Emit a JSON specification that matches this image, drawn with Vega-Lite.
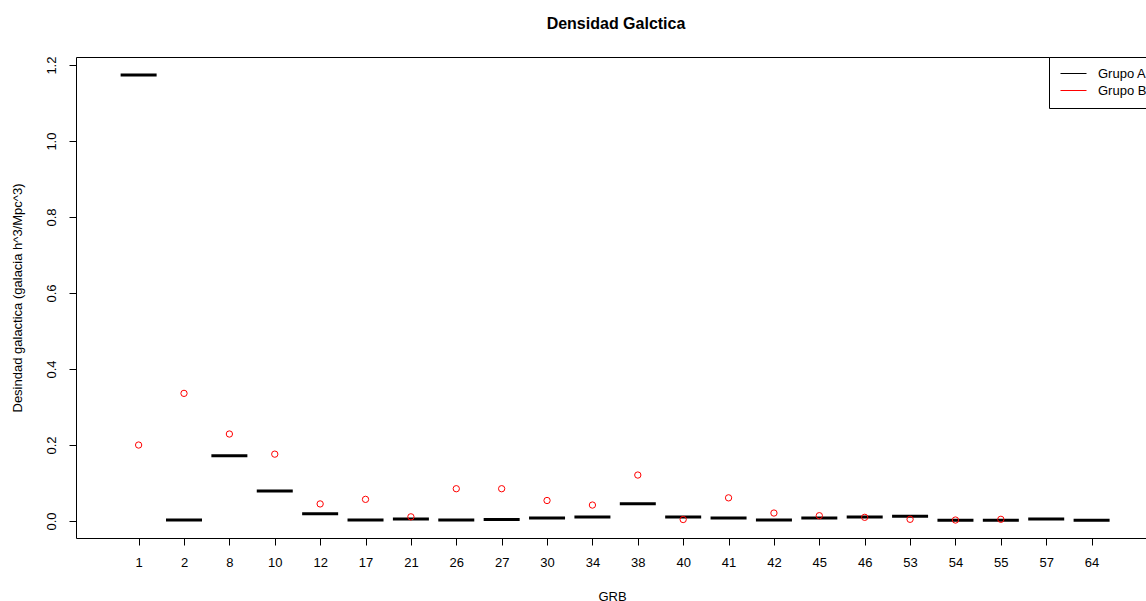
{
  "$schema": "https://vega.github.io/schema/vega-lite/v6.json",
  "autosize": {"type": "none"},
  "padding": {"left": 76, "top": 57, "right": 0, "bottom": 63},
  "width": 1072,
  "height": 481,
  "background": "white",
  "config": {
    "font": "Liberation Sans",
    "view": {"stroke": "black", "strokeWidth": 1},
    "axis": {"grid": false, "domain": false, "tickColor": "black", "tickSize": 7, "labelColor": "black", "labelFontSize": 13, "titleFontSize": 13, "titleFontWeight": "normal", "titleColor": "black"}
  },
  "title": {"text": "Densidad Galctica", "fontSize": 16, "fontWeight": "bold", "anchor": "middle", "offset": 24, "color": "black", "dx": 4},
  "data": {"values": [
    {"grb": "1", "idx": 1, "grupo": "Grupo A", "valor": 1.174},
    {"grb": "2", "idx": 2, "grupo": "Grupo A", "valor": 0.003},
    {"grb": "8", "idx": 3, "grupo": "Grupo A", "valor": 0.172},
    {"grb": "10", "idx": 4, "grupo": "Grupo A", "valor": 0.079},
    {"grb": "12", "idx": 5, "grupo": "Grupo A", "valor": 0.019},
    {"grb": "17", "idx": 6, "grupo": "Grupo A", "valor": 0.003},
    {"grb": "21", "idx": 7, "grupo": "Grupo A", "valor": 0.005},
    {"grb": "26", "idx": 8, "grupo": "Grupo A", "valor": 0.003},
    {"grb": "27", "idx": 9, "grupo": "Grupo A", "valor": 0.004},
    {"grb": "30", "idx": 10, "grupo": "Grupo A", "valor": 0.008},
    {"grb": "34", "idx": 11, "grupo": "Grupo A", "valor": 0.0105},
    {"grb": "38", "idx": 12, "grupo": "Grupo A", "valor": 0.0456},
    {"grb": "40", "idx": 13, "grupo": "Grupo A", "valor": 0.0105},
    {"grb": "41", "idx": 14, "grupo": "Grupo A", "valor": 0.008},
    {"grb": "42", "idx": 15, "grupo": "Grupo A", "valor": 0.003},
    {"grb": "45", "idx": 16, "grupo": "Grupo A", "valor": 0.008},
    {"grb": "46", "idx": 17, "grupo": "Grupo A", "valor": 0.0105},
    {"grb": "53", "idx": 18, "grupo": "Grupo A", "valor": 0.0123},
    {"grb": "54", "idx": 19, "grupo": "Grupo A", "valor": 0.002},
    {"grb": "55", "idx": 20, "grupo": "Grupo A", "valor": 0.002},
    {"grb": "57", "idx": 21, "grupo": "Grupo A", "valor": 0.005},
    {"grb": "64", "idx": 22, "grupo": "Grupo A", "valor": 0.002},
    {"grb": "1", "idx": 1, "grupo": "Grupo B", "valor": 0.2},
    {"grb": "2", "idx": 2, "grupo": "Grupo B", "valor": 0.336},
    {"grb": "8", "idx": 3, "grupo": "Grupo B", "valor": 0.229},
    {"grb": "10", "idx": 4, "grupo": "Grupo B", "valor": 0.176},
    {"grb": "12", "idx": 5, "grupo": "Grupo B", "valor": 0.045},
    {"grb": "17", "idx": 6, "grupo": "Grupo B", "valor": 0.057},
    {"grb": "21", "idx": 7, "grupo": "Grupo B", "valor": 0.011},
    {"grb": "26", "idx": 8, "grupo": "Grupo B", "valor": 0.085},
    {"grb": "27", "idx": 9, "grupo": "Grupo B", "valor": 0.085},
    {"grb": "30", "idx": 10, "grupo": "Grupo B", "valor": 0.054},
    {"grb": "34", "idx": 11, "grupo": "Grupo B", "valor": 0.042},
    {"grb": "38", "idx": 12, "grupo": "Grupo B", "valor": 0.121},
    {"grb": "40", "idx": 13, "grupo": "Grupo B", "valor": 0.004},
    {"grb": "41", "idx": 14, "grupo": "Grupo B", "valor": 0.061},
    {"grb": "42", "idx": 15, "grupo": "Grupo B", "valor": 0.021},
    {"grb": "45", "idx": 16, "grupo": "Grupo B", "valor": 0.014},
    {"grb": "46", "idx": 17, "grupo": "Grupo B", "valor": 0.0097},
    {"grb": "53", "idx": 18, "grupo": "Grupo B", "valor": 0.0045},
    {"grb": "54", "idx": 19, "grupo": "Grupo B", "valor": 0.0026},
    {"grb": "55", "idx": 20, "grupo": "Grupo B", "valor": 0.0045}
  ]},
  "encoding": {
    "x": {"field": "idx", "type": "quantitative",
      "scale": {"domain": [-0.38, 23.243], "nice": false, "zero": false},
      "axis": {"title": "GRB", "values": [1,2,3,4,5,6,7,8,9,10,11,12,13,14,15,16,17,18,19,20,21,22],
        "labelExpr": "['1','2','8','10','12','17','21','26','27','30','34','38','40','41','42','45','46','53','54','55','57','64'][datum.value-1]",
        "labelPadding": 11, "titlePadding": 21}},
    "y": {"field": "valor", "type": "quantitative",
      "scale": {"domain": [-0.0447, 1.2213], "nice": false, "zero": false},
      "axis": {"title": "Desindad galactica (galacia h^3/Mpc^3)", "values": [0, 0.2, 0.4, 0.6, 0.8, 1.0, 1.2], "format": ".1f",
        "labelAngle": -90, "labelAlign": "center", "labelBaseline": "bottom", "labelPadding": 11, "titlePadding": 21}},
    "color": {"field": "grupo", "type": "nominal",
      "scale": {"domain": ["Grupo A", "Grupo B"], "range": ["black", "red"]},
      "legend": {"title": null, "orient": "none", "legendX": 973, "legendY": 0,
        "strokeColor": "black", "padding": 10, "fillColor": "white",
        "symbolType": "M-1,0H4.2", "symbolSize": 100, "symbolStrokeWidth": 1,
        "labelFontSize": 13, "labelColor": "black", "labelOffset": 26, "rowPadding": 3}}
  },
  "layer": [
    {"transform": [{"filter": "datum.grupo === 'Grupo A'"}],
     "mark": {"type": "rule", "strokeWidth": 3, "xOffset": -18, "x2Offset": 18, "strokeCap": "butt"},
     "encoding": {"x2": {"field": "idx"}}},
    {"transform": [{"filter": "datum.grupo === 'Grupo B'"}],
     "mark": {"type": "point", "filled": false, "size": 40, "strokeWidth": 1, "opacity": 1}}
  ]
}
